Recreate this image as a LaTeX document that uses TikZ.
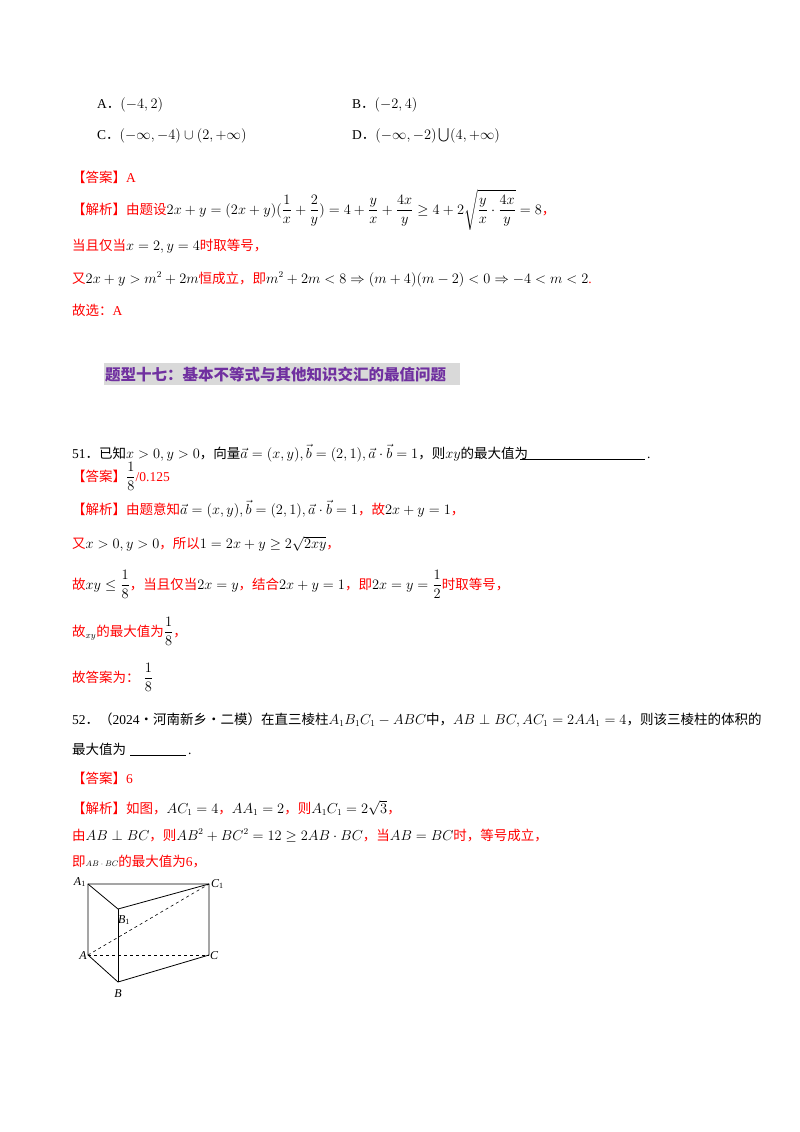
\documentclass[tikz,border=0pt]{standalone}
\usepackage{amsmath,amssymb}
\usepackage{fontspec}
\setmainfont{Liberation Serif}
\newfontfamily\cjk{Noto Sans CJK SC}
\newfontfamily\cjkb{Noto Sans CJK SC Black}
\newcommand\zh[1]{{\cjk #1}}
\definecolor{ans}{RGB}{255,0,0}
\definecolor{ttl}{RGB}{112,48,160}
\definecolor{ttlbg}{RGB}{217,217,217}
\begin{document}
\begin{tikzpicture}[x=1pt,y=-1pt,
  t/.style={anchor=base west,inner sep=0pt,font=\fontsize{13.5}{15}\selectfont},
  r/.style={t,text=ans},
  pt/.style={inner sep=0pt,font=\fontsize{12}{14}\selectfont\itshape}]
\useasboundingbox (0,0) rectangle (800,1132);
\fill[white] (0,0) rectangle (800,1132);
% options
\node[t] (oa) at (97,108) {A\zh{．}$(-4,2)$};
\node[t] (ob) at (352,108) {B\zh{．}$(-2,4)$};
\node[t] (oc) at (97,139) {C\zh{．}$(-\infty,-4)\cup(2,+\infty)$};
\node[t] (od) at (352,139) {D\zh{．}$(-\infty,-2)\bigcup(4,+\infty)$};
\node[r] (a1) at (72,182) {\zh{【答案】}A};
\node[r] (j1) at (72,214) {\zh{【解析】由题设}\textcolor{black}{$2x+y=(2x+y)(\dfrac{1}{x}+\dfrac{2}{y})=4+\dfrac{y}{x}+\dfrac{4x}{y}\geq4+2\sqrt{\dfrac{y}{x}\cdot\dfrac{4x}{y}}=8$}\zh{，}};
\node[r] (j2) at (72,250) {\zh{当且仅当}\textcolor{black}{$x=2,y=4$}\zh{时取等号，}};
\node[r] (j3) at (72,283) {\zh{又}\textcolor{black}{$2x+y>m^2+2m$}\zh{恒成立，即}\textcolor{black}{$m^2+2m<8\Rightarrow(m+4)(m-2)<0\Rightarrow-4<m<2$}.};
\node[r] (j4) at (72,315) {\zh{故选：}A};
% title
\fill[ttlbg] (104,363) rectangle (460,385);
\node[t,text=ttl,font=\fontsize{15.5}{17}\cjkb] (ttl) at (105,380) {题型十七：基本不等式与其他知识交汇的最值问题};
% 51
\node[t] (q51) at (72,458) {51\zh{．已知}$x>0,y>0$\zh{，向量}$\vec a=(x,y),\vec b=(2,1),\vec a\cdot\vec b=1$\zh{，则}$xy$\zh{的最大值为}};
\draw[thick] (520,459) -- (645,459);
\node[t] (dot51) at (647,458) {.};
\node[r] (a51) at (72,481) {\zh{【答案】}\textcolor{black}{$\dfrac{1}{8}$}/0.125};
\node[r] (j51a) at (72,514) {\zh{【解析】由题意知}\textcolor{black}{$\vec a=(x,y),\vec b=(2,1),\vec a\cdot\vec b=1$}\zh{，故}\textcolor{black}{$2x+y=1$}\zh{，}};
\node[r] (j51b) at (72,548) {\zh{又}\textcolor{black}{$x>0,y>0$}\zh{，所以}\textcolor{black}{$1=2x+y\geq2\sqrt{2xy}$}\zh{，}};
\node[r] (j51c) at (72,589) {\zh{故}\textcolor{black}{$xy\leq\dfrac{1}{8}$}\zh{，当且仅当}\textcolor{black}{$2x=y$}\zh{，结合}\textcolor{black}{$2x+y=1$}\zh{，即}\textcolor{black}{$2x=y=\dfrac{1}{2}$}\zh{时取等号，}};
\node[r] (j51d) at (72,636) {\zh{故}\textcolor{black}{$_{xy}$}\zh{的最大值为}\textcolor{black}{$\dfrac{1}{8}$}\zh{，}};
\node[r] (j51e) at (72,682) {\zh{故答案为：}\textcolor{black}{$\;\dfrac{1}{8}$}};
% 52
\node[t] (q52) at (72,724) {52\zh{．（}2024\zh{·河南新乡·二模）在直三棱柱}$A_1B_1C_1-ABC$\zh{中，}$AB\perp BC,AC_1=2AA_1=4$\zh{，则该三棱柱的体积的}};
\node[t] (q52b) at (72,754) {\zh{最大值为}};
\draw[thick] (130,755) -- (186,755);
\node[t] (dot52) at (188,754) {.};
\node[r] (a52) at (72,783) {\zh{【答案】}6};
\node[r] (j52a) at (72,813) {\zh{【解析】如图，}\textcolor{black}{$AC_1=4$}\zh{，}\textcolor{black}{$AA_1=2$}\zh{，则}\textcolor{black}{$A_1C_1=2\sqrt3$}\zh{，}};
\node[r] (j52b) at (72,840) {\zh{由}\textcolor{black}{$AB\perp BC$}\zh{，则}\textcolor{black}{$AB^2+BC^2=12\geq2AB\cdot BC$}\zh{，当}\textcolor{black}{$AB=BC$}\zh{时，等号成立，}};
\node[r] (j52c) at (72,866) {\zh{即}\textcolor{black}{\footnotesize$AB\cdot BC$}\zh{的最大值为}6\zh{，}};
% prism
\coordinate (A1) at (88,884);
\coordinate (C1) at (209,884);
\coordinate (B1) at (118,909);
\coordinate (A) at (88,955);
\coordinate (C) at (209,955);
\coordinate (B) at (118,982);
\draw[line width=0.8pt] (A1) -- (C1) -- (C) -- (B) -- (A) -- cycle;
\draw[line width=0.8pt] (A1) -- (B1) -- (C1);
\draw[line width=0.6pt] (B1) -- (B);
\draw[dashed,line width=0.6pt] (A) -- (C1);
\draw[dashed,line width=0.7pt] (A) -- (C);
\node[pt,anchor=east] (lA1) at (86,882) {A\textsubscript{\upshape 1}};
\node[pt,anchor=west] (lC1) at (211,884) {C\textsubscript{\upshape 1}};
\node[pt] (lB1) at (124,920) {B\textsubscript{\upshape 1}};
\node[pt,anchor=east] (lA) at (87,956) {A};
\node[pt,anchor=west] (lC) at (210,956) {C};
\node[pt] (lB) at (118,994) {B};
\end{tikzpicture}
\end{document}
